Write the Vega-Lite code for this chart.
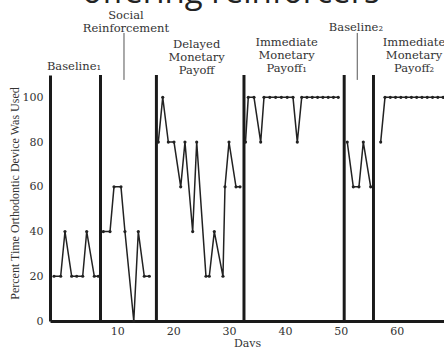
{
  "$schema": "https://vega.github.io/schema/vega-lite/v6.json",
  "width": 394,
  "height": 246,
  "autosize": {"type": "none"},
  "padding": {"left": 50, "top": 75, "right": 0, "bottom": 26},
  "background": "white",
  "title": {"text": "offering reinforcers", "fontSize": 33, "font": "Open Sans", "fontWeight": "normal", "color": "#222222", "anchor": "middle", "frame": "group", "dx": -16, "offset": -26, "baseline": "alphabetic"},
  "config": {"view": {"stroke": null}, "axis": {"grid": false, "ticks": false}},
  "datasets": {
    "points": [
      {"phase": "B1", "day": -1.32, "pct": 20}, {"phase": "B1", "day": -0.13, "pct": 20}, {"phase": "B1", "day": 0.64, "pct": 40},
      {"phase": "B1", "day": 1.84, "pct": 20}, {"phase": "B1", "day": 2.74, "pct": 20}, {"phase": "B1", "day": 3.81, "pct": 20},
      {"phase": "B1", "day": 4.53, "pct": 40}, {"phase": "B1", "day": 5.89, "pct": 20}, {"phase": "B1", "day": 6.6, "pct": 20},
      {"phase": "SR", "day": 7.5, "pct": 40}, {"phase": "SR", "day": 8.7, "pct": 40}, {"phase": "SR", "day": 9.41, "pct": 60},
      {"phase": "SR", "day": 10.66, "pct": 60}, {"phase": "SR", "day": 11.37, "pct": 40}, {"phase": "SR", "day": 12.95, "pct": 0},
      {"phase": "SR", "day": 13.76, "pct": 40}, {"phase": "SR", "day": 14.83, "pct": 20}, {"phase": "SR", "day": 15.73, "pct": 20},
      {"phase": "DM", "day": 17.34, "pct": 80}, {"phase": "DM", "day": 18.13, "pct": 100}, {"phase": "DM", "day": 19.13, "pct": 80},
      {"phase": "DM", "day": 20.15, "pct": 80}, {"phase": "DM", "day": 21.35, "pct": 60}, {"phase": "DM", "day": 22.11, "pct": 80},
      {"phase": "DM", "day": 23.49, "pct": 40}, {"phase": "DM", "day": 24.21, "pct": 80}, {"phase": "DM", "day": 25.87, "pct": 20},
      {"phase": "DM", "day": 26.46, "pct": 20}, {"phase": "DM", "day": 27.36, "pct": 40}, {"phase": "DM", "day": 28.91, "pct": 20},
      {"phase": "DM", "day": 29.27, "pct": 60}, {"phase": "DM", "day": 29.99, "pct": 80}, {"phase": "DM", "day": 31.24, "pct": 60},
      {"phase": "DM", "day": 31.96, "pct": 60},
      {"phase": "IM1", "day": 32.94, "pct": 80}, {"phase": "IM1", "day": 33.44, "pct": 100}, {"phase": "IM1", "day": 34.46, "pct": 100},
      {"phase": "IM1", "day": 35.66, "pct": 80}, {"phase": "IM1", "day": 36.25, "pct": 100}, {"phase": "IM1", "day": 37.29, "pct": 100},
      {"phase": "IM1", "day": 38.33, "pct": 100}, {"phase": "IM1", "day": 39.36, "pct": 100}, {"phase": "IM1", "day": 40.4, "pct": 100},
      {"phase": "IM1", "day": 41.44, "pct": 100}, {"phase": "IM1", "day": 42.21, "pct": 80}, {"phase": "IM1", "day": 43.0, "pct": 100},
      {"phase": "IM1", "day": 43.94, "pct": 100}, {"phase": "IM1", "day": 44.89, "pct": 100}, {"phase": "IM1", "day": 45.84, "pct": 100},
      {"phase": "IM1", "day": 46.79, "pct": 100}, {"phase": "IM1", "day": 47.74, "pct": 100}, {"phase": "IM1", "day": 48.68, "pct": 100},
      {"phase": "IM1", "day": 49.54, "pct": 100},
      {"phase": "B2", "day": 51.15, "pct": 80}, {"phase": "B2", "day": 52.23, "pct": 60}, {"phase": "B2", "day": 53.24, "pct": 60},
      {"phase": "B2", "day": 54.02, "pct": 80}, {"phase": "B2", "day": 55.34, "pct": 60},
      {"phase": "IM2", "day": 57.13, "pct": 80}, {"phase": "IM2", "day": 57.9, "pct": 100}, {"phase": "IM2", "day": 58.85, "pct": 100},
      {"phase": "IM2", "day": 59.79, "pct": 100}, {"phase": "IM2", "day": 60.74, "pct": 100}, {"phase": "IM2", "day": 61.68, "pct": 100},
      {"phase": "IM2", "day": 62.63, "pct": 100}, {"phase": "IM2", "day": 63.57, "pct": 100}, {"phase": "IM2", "day": 64.52, "pct": 100},
      {"phase": "IM2", "day": 65.46, "pct": 100}, {"phase": "IM2", "day": 66.41, "pct": 100}, {"phase": "IM2", "day": 67.35, "pct": 100},
      {"phase": "IM2", "day": 68.3, "pct": 100}
    ],
    "phaselines": [{"day": 7.0}, {"day": 17.0}, {"day": 32.67}, {"day": 50.6}, {"day": 55.84}],
    "pointers": [{"day": 11.2, "pct": 128.8, "pct2": 107.8}, {"day": 52.94, "pct": 128.8, "pct2": 107.8}],
    "labels": [
      {"day": 2.25, "pct": 113.6, "label": "Baseline₁"},
      {"day": 11.55, "pct": 136.4, "label": "Social\nReinforcement"},
      {"day": 24.2, "pct": 123.4, "label": "Delayed\nMonetary\nPayoff"},
      {"day": 40.3, "pct": 124.5, "label": "Immediate\nMonetary\nPayoff₁"},
      {"day": 52.7, "pct": 130.9, "label": "Baseline₂"},
      {"day": 63.1, "pct": 124.5, "label": "Immediate\nMonetary\nPayoff₂"}
    ]
  },
  "layer": [
    {
      "data": {"name": "phaselines"},
      "mark": {"type": "rule", "strokeWidth": 3, "color": "#1a1a1a"},
      "encoding": {
        "x": {"field": "day", "type": "quantitative", "scale": {"domain": [-2.04, 68.46], "nice": false, "zero": false},
              "axis": {"title": "Days", "values": [10, 20, 30, 40, 50, 60], "domainColor": "#1a1a1a", "domainWidth": 3, "labelFont": "DejaVu Serif", "labelFontSize": 11, "labelColor": "#333333", "labelPadding": 4, "titleFont": "DejaVu Serif", "titleFontSize": 11, "titleFontWeight": "normal", "titleColor": "#333333", "titlePadding": 1}},
        "y": {"datum": 0, "type": "quantitative", "scale": {"domain": [0, 110], "nice": false},
              "axis": {"title": "Percent Time Orthodontic Device Was Used", "values": [0, 20, 40, 60, 80, 100], "domainColor": "#1a1a1a", "domainWidth": 3, "labelFont": "DejaVu Serif", "labelFontSize": 11, "labelColor": "#333333", "labelPadding": 7, "titleFont": "Liberation Serif", "titleFontSize": 12, "titleFontWeight": "normal", "titleColor": "#333333", "titlePadding": 1, "titleY": 118}},
        "y2": {"datum": 110}
      }
    },
    {
      "data": {"name": "pointers"},
      "mark": {"type": "rule", "strokeWidth": 1, "color": "#555555"},
      "encoding": {
        "x": {"field": "day", "type": "quantitative"},
        "y": {"field": "pct", "type": "quantitative"},
        "y2": {"field": "pct2"}
      }
    },
    {
      "data": {"name": "points"},
      "mark": {"type": "line", "strokeWidth": 1.5, "color": "#222222"},
      "encoding": {
        "x": {"field": "day", "type": "quantitative"},
        "y": {"field": "pct", "type": "quantitative"},
        "detail": {"field": "phase"}
      }
    },
    {
      "data": {"name": "points"},
      "mark": {"type": "point", "filled": true, "size": 10, "color": "#222222", "opacity": 1},
      "encoding": {
        "x": {"field": "day", "type": "quantitative"},
        "y": {"field": "pct", "type": "quantitative"}
      }
    },
    {
      "data": {"name": "labels"},
      "mark": {"type": "text", "font": "DejaVu Serif", "fontSize": 11.5, "color": "#333333", "lineBreak": "\n", "lineHeight": 13, "align": "center", "baseline": "middle"},
      "encoding": {
        "x": {"field": "day", "type": "quantitative"},
        "y": {"field": "pct", "type": "quantitative"},
        "text": {"field": "label"}
      }
    }
  ]
}
